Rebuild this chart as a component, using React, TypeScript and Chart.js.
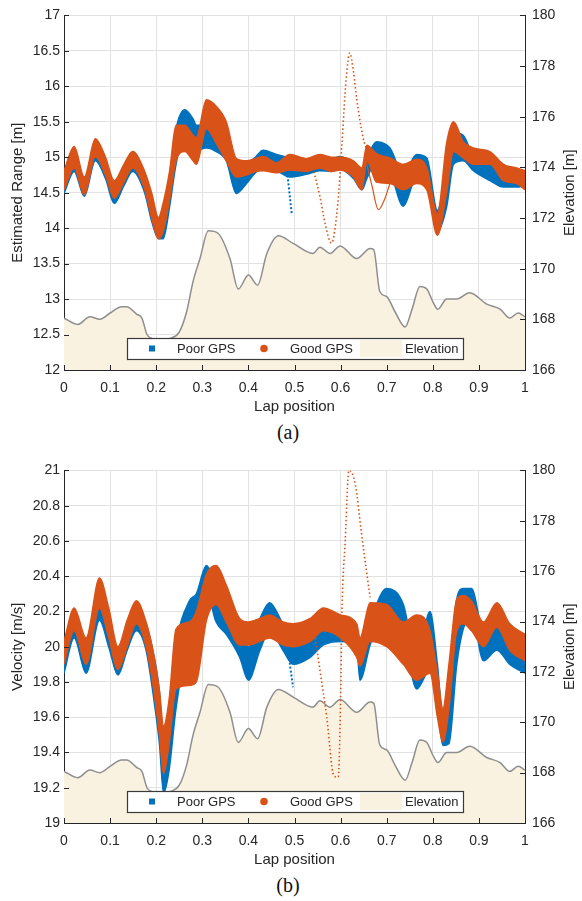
import React, { useEffect, useRef } from "react";
import { Chart, registerables } from "chart.js";

Chart.register(...registerables);

// ---------- Data (a): estimated range ----------
const rangeLap = [0, 0.022, 0.044, 0.068, 0.09, 0.109, 0.13, 0.149, 0.175, 0.19, 0.205, 0.215, 0.229, 0.243, 0.262, 0.28, 0.287, 0.309, 0.33, 0.352, 0.374, 0.396, 0.415, 0.432, 0.461, 0.49, 0.526, 0.555, 0.58, 0.599, 0.628, 0.646, 0.657, 0.678, 0.707, 0.736, 0.765, 0.787, 0.81, 0.83, 0.845, 0.866, 0.888, 0.924, 0.953, 0.982, 1.0];
const goodRangeHigh = [14.81, 15.15, 14.72, 15.26, 15.0, 14.67, 14.9, 15.08, 14.8, 14.5, 14.15, 14.35, 14.8, 15.45, 15.45, 15.31, 15.28, 15.81, 15.72, 15.5, 14.98, 14.95, 14.98, 15.01, 14.92, 15.04, 14.98, 15.04, 15.0, 15.0, 14.95, 14.85, 15.17, 15.05, 14.99, 14.9, 14.97, 14.85, 14.2, 15.2, 15.5, 15.22, 15.13, 15.08, 14.9, 14.85, 14.81];
const goodRangeLow = [14.54, 14.85, 14.47, 15.01, 14.75, 14.42, 14.65, 14.85, 14.55, 14.15, 13.85, 13.95, 14.4, 14.95, 15.08, 14.95, 14.9, 15.4, 15.2, 14.95, 14.72, 14.75, 14.8, 14.81, 14.78, 14.82, 14.8, 14.85, 14.8, 14.82, 14.72, 14.54, 14.95, 14.65, 14.63, 14.54, 14.63, 14.54, 13.9, 14.5, 15.08, 14.99, 14.9, 14.9, 14.67, 14.63, 14.54];
const poorRangeHigh = [14.76, 15.05, 14.7, 15.15, 14.95, 14.63, 14.88, 15.05, 14.78, 14.45, 14.1, 14.3, 14.75, 15.4, 15.67, 15.54, 15.45, 15.45, 15.3, 15.2, 14.81, 14.9, 15.0, 15.1, 15.04, 14.99, 14.94, 15.0, 14.98, 15.01, 14.92, 14.81, 14.99, 15.22, 15.13, 14.76, 15.04, 14.99, 14.25, 14.9, 15.35, 15.31, 15.04, 14.99, 14.9, 14.76, 14.76];
const poorRangeLow = [14.49, 14.8, 14.45, 14.95, 14.7, 14.35, 14.6, 14.8, 14.5, 14.1, 13.85, 13.85, 14.3, 14.9, 15.35, 15.13, 15.1, 15.13, 15.08, 14.95, 14.49, 14.63, 14.78, 14.85, 14.81, 14.72, 14.76, 14.81, 14.8, 14.83, 14.7, 14.54, 14.7, 14.95, 14.8, 14.31, 14.72, 14.63, 13.95, 14.3, 14.9, 14.95, 14.81, 14.67, 14.58, 14.58, 14.6];
const goodRangeOutLap = [0.54, 0.555, 0.567, 0.58, 0.594, 0.603, 0.612, 0.62, 0.628, 0.635, 0.649, 0.657];
const goodRangeOut = [14.85, 14.45, 14.05, 13.79, 14.35, 15.2, 16.1, 16.47, 16.2, 15.82, 15.27, 15.1];
const goodRangeDipLap = [0.655, 0.668, 0.682, 0.695, 0.707];
const goodRangeDip = [14.95, 14.6, 14.26, 14.4, 14.63];
const poorRangeDropLap = [0.484, 0.489, 0.494];
const poorRangeDrop = [14.8, 14.5, 14.2];

// ---------- Data (b): velocity ----------
const velLap = [0, 0.022, 0.048, 0.077, 0.097, 0.117, 0.137, 0.157, 0.178, 0.195, 0.207, 0.216, 0.228, 0.243, 0.272, 0.287, 0.309, 0.33, 0.352, 0.381, 0.4, 0.425, 0.446, 0.475, 0.497, 0.534, 0.563, 0.6, 0.635, 0.642, 0.664, 0.7, 0.736, 0.765, 0.794, 0.81, 0.822, 0.835, 0.852, 0.866, 0.884, 0.91, 0.939, 0.967, 1.0];
const goodVelHigh = [20.03, 20.22, 20.05, 20.39, 20.22, 20.0, 20.15, 20.26, 20.14, 19.95, 19.75, 19.55, 19.7, 20.1, 20.14, 20.2, 20.41, 20.46, 20.35, 20.16, 20.14, 20.16, 20.18, 20.14, 20.13, 20.16, 20.22, 20.18, 20.13, 20.05, 20.25, 20.24, 20.14, 20.18, 20.09, 19.85, 19.65, 19.9, 20.27, 20.29, 20.26, 20.14, 20.25, 20.13, 20.07];
const goodVelLow = [19.9, 20.09, 19.9, 20.22, 20.05, 19.87, 20.0, 20.13, 20.0, 19.75, 19.5, 19.28, 19.45, 19.76, 19.78, 19.8, 20.15, 20.24, 20.14, 20.01, 20.01, 20.03, 20.05, 20.01, 20.0, 20.03, 20.09, 20.05, 19.94, 19.89, 20.03, 20.0, 19.9, 19.81, 19.85, 19.6, 19.46, 19.65, 20.09, 20.13, 20.09, 20.0, 20.11, 19.98, 19.92];
const poorVelHigh = [20.01, 20.2, 20.01, 20.3, 20.15, 19.98, 20.13, 20.25, 20.13, 19.95, 19.75, 19.45, 19.6, 20.0, 20.26, 20.3, 20.46, 20.35, 20.27, 20.09, 20.0, 20.16, 20.25, 20.13, 20.05, 20.05, 20.14, 20.14, 20.1, 19.95, 20.14, 20.33, 20.24, 19.92, 20.2, 19.9, 19.6, 19.85, 20.27, 20.33, 20.33, 20.09, 20.13, 20.05, 20.01];
const poorVelLow = [19.85, 20.05, 19.85, 20.15, 20.0, 19.84, 19.98, 20.09, 19.98, 19.7, 19.45, 19.17, 19.3, 19.65, 20.05, 20.1, 20.31, 20.14, 20.07, 19.94, 19.81, 19.98, 20.09, 19.98, 19.9, 19.94, 20.01, 20.03, 20.0, 19.81, 20.01, 20.22, 20.09, 19.76, 19.87, 19.65, 19.44, 19.45, 19.9, 20.1, 20.18, 19.92, 19.98, 19.9, 19.85];
const goodVelOutLap = [0.545, 0.555, 0.57, 0.585, 0.595, 0.6, 0.603, 0.61, 0.618, 0.632, 0.645, 0.655, 0.664];
const goodVelOut = [20.05, 19.87, 19.6, 19.27, 19.26, 19.7, 20.2, 20.6, 21.0, 20.92, 20.65, 20.45, 20.28];
const poorVelDropLap = [0.486, 0.491, 0.497];
const poorVelDrop = [20.0, 19.88, 19.77];

// ---------- Elevation (shared) ----------
const elevLap = [0, 0.03, 0.056, 0.078, 0.1, 0.125, 0.136, 0.158, 0.169, 0.18, 0.19, 0.21, 0.23, 0.25, 0.266, 0.28, 0.295, 0.313, 0.334, 0.36, 0.378, 0.4, 0.42, 0.44, 0.465, 0.497, 0.54, 0.555, 0.577, 0.599, 0.635, 0.664, 0.672, 0.685, 0.7, 0.718, 0.74, 0.755, 0.772, 0.787, 0.8, 0.811, 0.83, 0.852, 0.88, 0.917, 0.946, 0.967, 0.985, 1.0];
const elevation = [168.05, 167.8, 168.1, 168.0, 168.25, 168.5, 168.5, 168.2, 168.05, 167.4, 167.25, 167.2, 167.25, 167.5, 168.3, 169.5, 170.4, 171.5, 171.4, 170.4, 169.2, 169.75, 169.35, 170.6, 171.3, 171.0, 170.6, 170.85, 170.6, 170.9, 170.4, 170.8, 170.75, 169.1, 168.9, 168.3, 167.7, 168.4, 169.3, 169.2, 168.7, 168.4, 168.8, 168.8, 169.05, 168.6, 168.4, 168.05, 168.25, 168.1];

const xTicks = { min: 0, max: 1, step: 0.1 };
const elevTicks = { min: 166, max: 180, step: 2 };

const BLUE = "#0072BD";
const ORANGE = "#D95319";
const BEIGE = "#FAF2E1";
const INK = "#262626";
const GRID = "#e2e2e2";
const FONT = '"Liberation Sans", Arial, Helvetica, sans-serif';

const zip = (xs: number[], ys: number[]) => xs.map((x, i) => ({ x, y: ys[i] }));
const fmt = (v: any) => String(Number(Number(v).toFixed(3)));

const decorPlugin = {
  id: "decor",
  afterDatasetsDraw(chart: any, _args: any, opts: any) {
    const { ctx, chartArea: a, scales } = chart;
    ctx.save();
    ctx.strokeStyle = INK;
    ctx.lineWidth = 1;
    const seg = (x1: number, y1: number, x2: number, y2: number) => {
      ctx.beginPath();
      ctx.moveTo(x1, y1);
      ctx.lineTo(x2, y2);
      ctx.stroke();
    };
    scales.x.ticks.forEach((t: any) => {
      const px = Math.round(scales.x.getPixelForValue(t.value)) + 0.5;
      seg(px, a.bottom, px, a.bottom - 5);
    });
    scales.y.ticks.forEach((t: any) => {
      const py = Math.round(scales.y.getPixelForValue(t.value)) + 0.5;
      seg(a.left, py, a.left + 5, py);
    });
    scales.y1.ticks.forEach((t: any) => {
      const py = Math.round(scales.y1.getPixelForValue(t.value)) + 0.5;
      seg(a.right, py, a.right - 5, py);
    });
    ctx.save();
    ctx.translate(570, (a.top + a.bottom) / 2);
    ctx.rotate(-Math.PI / 2);
    ctx.fillStyle = INK;
    ctx.font = `15px ${FONT}`;
    ctx.textAlign = "center";
    ctx.textBaseline = "middle";
    ctx.fillText(opts.rightTitle, 0, 0);
    ctx.restore();
    const L = a.left + 63;
    const R = a.left + 399;
    const T = a.bottom - 32;
    const H = 21;
    const mid = T + H / 2;
    ctx.fillStyle = "#ffffff";
    ctx.fillRect(L, T, R - L, H);
    ctx.fillStyle = BEIGE;
    ctx.fillRect(a.left + 296, T + 2, 42, H - 4);
    ctx.strokeStyle = "#3a3a3a";
    ctx.lineWidth = 1.2;
    ctx.strokeRect(L + 0.5, T + 0.5, R - L, H);
    ctx.fillStyle = BLUE;
    ctx.fillRect(a.left + 85, mid - 3, 6, 6);
    ctx.fillStyle = ORANGE;
    ctx.beginPath();
    ctx.arc(a.left + 200, mid, 3.8, 0, Math.PI * 2);
    ctx.fill();
    ctx.fillStyle = INK;
    ctx.font = `13px ${FONT}`;
    ctx.textAlign = "left";
    ctx.textBaseline = "middle";
    ctx.fillText("Poor GPS", a.left + 113, mid + 1);
    ctx.fillText("Good GPS", a.left + 226, mid + 1);
    ctx.fillText("Elevation", a.left + 341, mid + 1);
    ctx.restore();
  },
};

type PanelData = {
  lap: number[];
  goodHigh: number[];
  goodLow: number[];
  poorHigh: number[];
  poorLow: number[];
  outLap: number[];
  out: number[];
  dipLap: number[];
  dip: number[];
  dropLap: number[];
  drop: number[];
  yMin: number;
  yMax: number;
  yStep: number;
  yTitle: string;
};

function buildConfig(p: PanelData): any {
  const band = (ys: number[], color: string, fill: any) => ({
    data: zip(p.lap, ys),
    borderColor: color,
    backgroundColor: color,
    borderWidth: 1.5,
    pointRadius: 0,
    fill,
    cubicInterpolationMode: "monotone",
    yAxisID: "y",
  });
  const datasets: any[] = [
    {
      data: zip(p.outLap, p.out),
      borderColor: ORANGE,
      borderWidth: 1.6,
      borderDash: [1.5, 2.5],
      pointRadius: 0,
      fill: false,
      cubicInterpolationMode: "monotone",
      yAxisID: "y",
    },
    {
      data: zip(p.dipLap, p.dip),
      borderColor: ORANGE,
      borderWidth: 1.2,
      pointRadius: 0,
      fill: false,
      cubicInterpolationMode: "monotone",
      yAxisID: "y",
    },
    {
      data: zip(p.dropLap, p.drop),
      borderColor: BLUE,
      borderWidth: 2,
      borderDash: [2, 2],
      pointRadius: 0,
      fill: false,
      yAxisID: "y",
    },
    band(p.goodHigh, ORANGE, false),
    band(p.goodLow, ORANGE, "-1"),
    band(p.poorHigh, BLUE, false),
    band(p.poorLow, BLUE, "-1"),
    {
      data: zip(elevLap, elevation),
      borderColor: "#8e8e8e",
      backgroundColor: BEIGE,
      borderWidth: 1.5,
      pointRadius: 0,
      fill: "start",
      cubicInterpolationMode: "monotone",
      yAxisID: "y1",
    },
  ];
  const tickFont = { family: FONT, size: 14 };
  return {
    type: "line",
    data: { datasets },
    plugins: [decorPlugin],
    options: {
      responsive: false,
      animation: false,
      layout: { padding: { top: 8, left: 0, right: 0, bottom: 0 } },
      plugins: {
        legend: { display: false },
        tooltip: { enabled: false },
        decor: { rightTitle: "Elevation [m]" },
      },
      scales: {
        x: {
          type: "linear",
          min: xTicks.min,
          max: xTicks.max,
          ticks: { stepSize: xTicks.step, color: INK, font: tickFont, padding: 10, maxRotation: 0, callback: fmt },
          grid: { color: GRID, drawTicks: false },
          border: { color: INK, width: 1 },
          title: { display: true, text: "Lap position", color: INK, font: { family: FONT, size: 15 }, padding: { top: 0, bottom: 4 } },
          afterFit: (s: any) => { s.height = 50; },
        },
        y: {
          type: "linear",
          position: "left",
          min: p.yMin,
          max: p.yMax,
          ticks: { stepSize: p.yStep, color: INK, font: tickFont, padding: 4, callback: fmt },
          grid: { color: GRID, drawTicks: false },
          border: { color: INK, width: 1 },
          title: { display: true, text: p.yTitle, color: INK, font: { family: FONT, size: 15 }, padding: { top: 9, bottom: 0 } },
          afterFit: (s: any) => { s.width = 64; },
        },
        y1: {
          type: "linear",
          position: "right",
          min: elevTicks.min,
          max: elevTicks.max,
          ticks: { stepSize: elevTicks.step, color: INK, font: tickFont, padding: 7, callback: fmt },
          grid: { drawOnChartArea: false, drawTicks: false },
          border: { color: INK, width: 1, display: true },
          afterFit: (s: any) => { s.width = 57; },
        },
      },
    },
  };
}

const panelA: PanelData = {
  lap: rangeLap,
  goodHigh: goodRangeHigh,
  goodLow: goodRangeLow,
  poorHigh: poorRangeHigh,
  poorLow: poorRangeLow,
  outLap: goodRangeOutLap,
  out: goodRangeOut,
  dipLap: goodRangeDipLap,
  dip: goodRangeDip,
  dropLap: poorRangeDropLap,
  drop: poorRangeDrop,
  yMin: 12,
  yMax: 17,
  yStep: 0.5,
  yTitle: "Estimated Range [m]",
};

const panelB: PanelData = {
  lap: velLap,
  goodHigh: goodVelHigh,
  goodLow: goodVelLow,
  poorHigh: poorVelHigh,
  poorLow: poorVelLow,
  outLap: goodVelOutLap,
  out: goodVelOut,
  dipLap: [],
  dip: [],
  dropLap: poorVelDropLap,
  drop: poorVelDrop,
  yMin: 19,
  yMax: 21,
  yStep: 0.2,
  yTitle: "Velocity [m/s]",
};

function Panel({ data, top, height }: { data: PanelData; top: number; height: number }) {
  const ref = useRef<HTMLCanvasElement | null>(null);
  useEffect(() => {
    if (!ref.current) return;
    const chart = new Chart(ref.current, buildConfig(data));
    return () => chart.destroy();
  }, [data]);
  return (
    <div style={{ position: "absolute", left: 0, top, width: 582, height }}>
      <canvas ref={ref} width={582} height={height} style={{ width: 582, height, display: "block" }} />
    </div>
  );
}

const captionStyle: React.CSSProperties = {
  position: "absolute",
  width: 582,
  left: -3,
  textAlign: "center",
  fontFamily: '"Liberation Serif", "Times New Roman", serif',
  fontSize: 20,
  lineHeight: "24px",
  color: "#111",
};

export default function App() {
  return (
    <div style={{ position: "absolute", left: 0, top: 0, width: 582, height: 901, background: "#fff", overflow: "hidden" }}>
      <Panel data={panelA} top={0} height={420} />
      <div style={{ ...captionStyle, top: 420 }}>(a)</div>
      <Panel data={panelB} top={455} height={418} />
      <div style={{ ...captionStyle, top: 873 }}>(b)</div>
    </div>
  );
}
